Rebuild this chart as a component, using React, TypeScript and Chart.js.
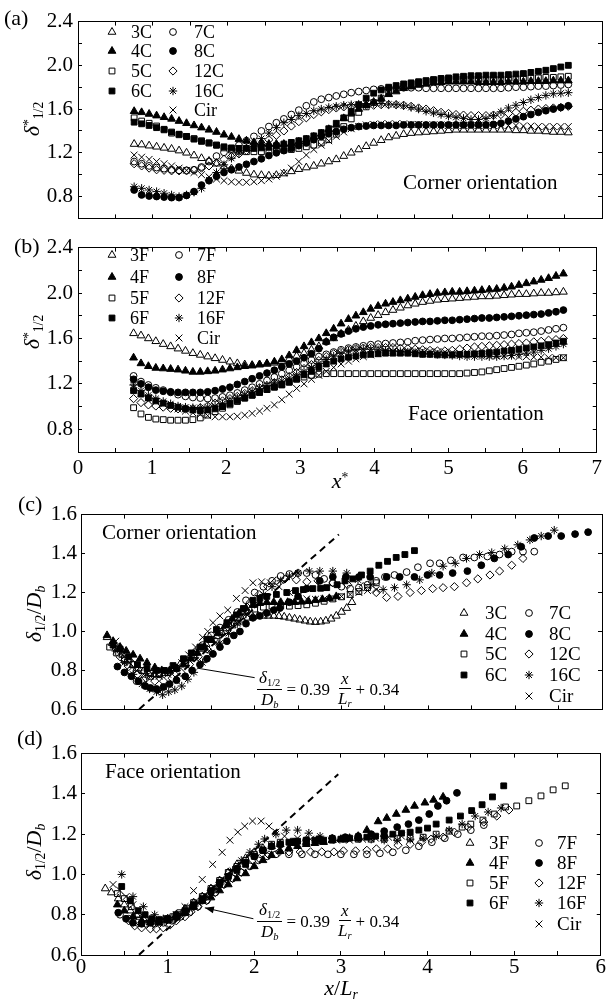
import React, { useEffect, useRef } from 'react';
import { Chart, registerables } from 'chart.js';
Chart.register(...registerables);

const FONT = "'Liberation Serif', 'Times New Roman', serif";

// ---------------- data: panels (a) and (b), x* positions ----------------
const xStar = [
  0.75, 0.85, 0.95, 1.05, 1.15, 1.25, 1.35, 1.45, 1.55, 1.65,
  1.75, 1.85, 1.95, 2.05, 2.15, 2.25, 2.35, 2.45, 2.55, 2.65,
  2.75, 2.85, 2.95, 3.05, 3.15, 3.25, 3.35, 3.45, 3.55, 3.65,
  3.75, 3.85, 3.95, 4.05, 4.15, 4.25, 4.35, 4.45, 4.55, 4.65,
  4.75, 4.85, 4.95, 5.05, 5.15, 5.25, 5.35, 5.45, 5.55, 5.65,
  5.75, 5.85, 5.95, 6.05, 6.15, 6.25, 6.35, 6.45, 6.55,
];

// (a) corner orientation
const a3C = [
  1.28, 1.275, 1.265, 1.255, 1.245, 1.235, 1.22, 1.2, 1.175, 1.15,
  1.125, 1.1, 1.075, 1.055, 1.035, 1.015, 1.0, 0.995, 0.99, 0.995,
  1.01, 1.03, 1.05, 1.065, 1.08, 1.1, 1.12, 1.14, 1.17, 1.2,
  1.23, 1.26, 1.29, 1.315, 1.34, 1.355, 1.37, 1.38, 1.385, 1.39,
  1.395, 1.4, 1.405, 1.41, 1.41, 1.41, 1.41, 1.41, 1.41, 1.41,
  1.41, 1.405, 1.405, 1.4, 1.4, 1.395, 1.39, 1.39, 1.385,
];
const a4C = [
  1.58, 1.57, 1.555, 1.54, 1.525, 1.51, 1.49, 1.47, 1.45, 1.43,
  1.41, 1.39, 1.365, 1.345, 1.325, 1.31, 1.295, 1.285, 1.28, 1.28,
  1.28, 1.285, 1.3, 1.32, 1.345, 1.375, 1.415, 1.455, 1.515, 1.56,
  1.6, 1.635, 1.665, 1.695, 1.735, 1.76, 1.79, 1.805, 1.82, 1.83,
  1.84, 1.845, 1.85, 1.85, 1.85, 1.85, 1.845, 1.845, 1.845, 1.845,
  1.85, 1.85, 1.85, 1.855, 1.855, 1.855, 1.86, 1.86, 1.86,
];
const a5C = [
  1.52, 1.49, 1.47, 1.445, 1.41, 1.38, 1.365, 1.35, 1.33, 1.31,
  1.29, 1.27, 1.245, 1.225, 1.215, 1.21, 1.21, 1.21, 1.215, 1.22,
  1.225, 1.23, 1.24, 1.255, 1.27, 1.29, 1.32, 1.37, 1.44, 1.51,
  1.57, 1.62, 1.66, 1.7, 1.745, 1.78, 1.81, 1.83, 1.845, 1.855,
  1.865, 1.87, 1.875, 1.875, 1.875, 1.875, 1.875, 1.875, 1.875, 1.875,
  1.88, 1.88, 1.88, 1.885, 1.885, 1.89, 1.89, 1.895, 1.9,
];
const a6C = [
  1.48, 1.465, 1.45, 1.43, 1.415, 1.39, 1.37, 1.35, 1.325, 1.305,
  1.29, 1.27, 1.255, 1.245, 1.24, 1.24, 1.24, 1.245, 1.25, 1.265,
  1.28, 1.295, 1.31, 1.33, 1.355, 1.385, 1.42, 1.47, 1.52, 1.58,
  1.64, 1.7, 1.745, 1.775, 1.8, 1.815, 1.83, 1.84, 1.85, 1.86,
  1.87, 1.88, 1.885, 1.895, 1.9, 1.905, 1.905, 1.91, 1.91, 1.91,
  1.915, 1.92, 1.925, 1.935, 1.945, 1.955, 1.97, 1.985, 2.0,
];
const a7C = [
  1.12, 1.1, 1.08, 1.065, 1.055, 1.045, 1.04, 1.04, 1.045, 1.07,
  1.12, 1.17, 1.205, 1.235, 1.27, 1.31, 1.35, 1.4, 1.44, 1.475,
  1.51, 1.55, 1.59, 1.63, 1.665, 1.69, 1.705, 1.72, 1.735, 1.75,
  1.76, 1.77, 1.78, 1.785, 1.79, 1.795, 1.795, 1.795, 1.795, 1.79,
  1.79, 1.79, 1.79, 1.79, 1.79, 1.79, 1.79, 1.79, 1.79, 1.79,
  1.795, 1.8, 1.8, 1.805, 1.81, 1.81, 1.815, 1.82, 1.825,
];
const a8C = [
  0.86, 0.815, 0.805, 0.8, 0.795, 0.79, 0.79, 0.81, 0.845, 0.905,
  0.945, 0.985, 1.02, 1.045, 1.07, 1.095, 1.12, 1.145, 1.175, 1.2,
  1.22, 1.24, 1.265, 1.29, 1.32, 1.35, 1.375, 1.395, 1.415, 1.43,
  1.44, 1.445, 1.45, 1.45, 1.45, 1.45, 1.455, 1.455, 1.455, 1.455,
  1.455, 1.455, 1.455, 1.455, 1.455, 1.455, 1.455, 1.455, 1.46, 1.47,
  1.49, 1.51, 1.53, 1.55, 1.57, 1.585, 1.6, 1.615, 1.63,
];
const a12C = [
  1.1, 1.08, 1.06, 1.045, 1.04, 1.035, 1.035, 1.035, 1.04, 1.06,
  1.08, 1.11, 1.14, 1.165, 1.19, 1.22, 1.25, 1.285, 1.32, 1.36,
  1.4, 1.445, 1.485, 1.52, 1.55, 1.575, 1.595, 1.61, 1.62, 1.625,
  1.63, 1.635, 1.635, 1.64, 1.64, 1.64, 1.635, 1.625, 1.61, 1.6,
  1.585, 1.57, 1.56, 1.55, 1.545, 1.54, 1.54, 1.54, 1.545, 1.55,
  1.56, 1.57, 1.58, 1.59, 1.6, 1.605, 1.61, 1.615, 1.625,
];
const a16C = [
  0.89, 0.875, 0.86, 0.845, 0.83, 0.815, 0.8, 0.815, 0.84, 0.875,
  0.95, 1.02, 1.09, 1.15, 1.2, 1.245, 1.285, 1.33, 1.38, 1.43,
  1.475, 1.505, 1.54, 1.56, 1.585, 1.6, 1.615, 1.625, 1.635, 1.64,
  1.645, 1.65, 1.65, 1.65, 1.645, 1.64, 1.63, 1.615, 1.6, 1.58,
  1.565, 1.55, 1.535, 1.525, 1.515, 1.505, 1.505, 1.515, 1.54, 1.575,
  1.61, 1.635, 1.66, 1.685, 1.705, 1.725, 1.74, 1.745, 1.75,
];
const aCir = [
  1.18, 1.16, 1.14, 1.12, 1.1, 1.08, 1.06, 1.04, 1.02, 1.0,
  0.98, 0.96, 0.945, 0.935, 0.93, 0.93, 0.935, 0.945, 0.96, 0.985,
  1.015, 1.06, 1.12, 1.18, 1.23, 1.27, 1.31, 1.35, 1.39, 1.42,
  1.44, 1.455, 1.46, 1.465, 1.465, 1.465, 1.465, 1.46, 1.46, 1.455,
  1.455, 1.455, 1.45, 1.45, 1.45, 1.45, 1.45, 1.45, 1.45, 1.45,
  1.45, 1.45, 1.445, 1.445, 1.44, 1.44, 1.44, 1.44, 1.44,
];

// (b) face orientation
const b3F = [
  1.645, 1.625, 1.6, 1.575, 1.55, 1.53, 1.51, 1.49, 1.47, 1.455,
  1.44, 1.425, 1.41, 1.395, 1.38, 1.37, 1.365, 1.37, 1.375, 1.385,
  1.4, 1.42, 1.445, 1.47, 1.5, 1.53, 1.57, 1.6, 1.64, 1.675,
  1.71, 1.75, 1.78, 1.805, 1.83, 1.85, 1.87, 1.89, 1.905, 1.92,
  1.93, 1.94, 1.945, 1.95, 1.955, 1.96, 1.965, 1.97, 1.97, 1.975,
  1.98, 1.985, 1.99, 1.99, 1.995, 2.0, 2.0, 2.005, 2.01,
];
const b4F = [
  1.43, 1.38, 1.355, 1.34, 1.335, 1.33, 1.325, 1.315, 1.305, 1.305,
  1.31, 1.315, 1.325, 1.335, 1.345, 1.355, 1.36, 1.37, 1.38, 1.395,
  1.415, 1.45, 1.495, 1.53, 1.565, 1.6, 1.645, 1.685, 1.73, 1.77,
  1.8, 1.83, 1.86, 1.885, 1.905, 1.92, 1.935, 1.95, 1.965, 1.98,
  1.99, 2.0, 2.005, 2.01, 2.01, 2.015, 2.02, 2.025, 2.03, 2.035,
  2.045, 2.055, 2.07, 2.085, 2.1, 2.115, 2.13, 2.15, 2.17,
];
const b5F = [
  0.99, 0.935, 0.905, 0.89, 0.885, 0.88, 0.88, 0.88, 0.885, 0.9,
  0.925, 0.955, 0.985, 1.015, 1.045, 1.075, 1.1, 1.125, 1.15, 1.175,
  1.195, 1.215, 1.24, 1.26, 1.275, 1.285, 1.29, 1.29, 1.29, 1.29,
  1.29, 1.29, 1.29, 1.29, 1.29, 1.29, 1.29, 1.29, 1.29, 1.29,
  1.29, 1.29, 1.29, 1.29, 1.29, 1.295, 1.3, 1.305, 1.315, 1.325,
  1.335, 1.345, 1.355, 1.365, 1.375, 1.39, 1.4, 1.415, 1.43,
];
const b6F = [
  1.14, 1.11, 1.075, 1.05, 1.03, 1.01, 0.995, 0.98, 0.97, 0.965,
  0.97, 0.98, 1.0, 1.025, 1.05, 1.075, 1.1, 1.125, 1.15, 1.17,
  1.19, 1.215, 1.245, 1.28, 1.31, 1.345, 1.375, 1.4, 1.42, 1.435,
  1.445, 1.455, 1.46, 1.465, 1.47, 1.47, 1.47, 1.47, 1.465, 1.46,
  1.46, 1.455, 1.455, 1.455, 1.46, 1.46, 1.465, 1.47, 1.475, 1.48,
  1.49, 1.495, 1.505, 1.515, 1.525, 1.535, 1.545, 1.56, 1.575,
];
const b7F = [
  1.27, 1.22, 1.19, 1.165, 1.145, 1.125, 1.105, 1.09, 1.08, 1.075,
  1.07, 1.075, 1.085, 1.1, 1.12, 1.145, 1.17, 1.2, 1.23, 1.26,
  1.29, 1.32, 1.35, 1.38, 1.41, 1.44, 1.46, 1.48, 1.5, 1.515,
  1.525, 1.535, 1.545, 1.55, 1.555, 1.56, 1.565, 1.57, 1.58, 1.585,
  1.59, 1.595, 1.6, 1.6, 1.605, 1.61, 1.615, 1.62, 1.62, 1.625,
  1.63, 1.635, 1.645, 1.65, 1.655, 1.665, 1.675, 1.685, 1.695,
];
const b8F = [
  1.24, 1.2, 1.17, 1.145, 1.135, 1.13, 1.125, 1.125, 1.125, 1.125,
  1.13, 1.14, 1.155, 1.17, 1.195, 1.22, 1.245, 1.27, 1.295, 1.32,
  1.35, 1.375, 1.4, 1.43, 1.465, 1.51, 1.57, 1.61, 1.64, 1.665,
  1.685, 1.7, 1.71, 1.72, 1.725, 1.73, 1.735, 1.74, 1.745, 1.75,
  1.75, 1.755, 1.76, 1.76, 1.765, 1.77, 1.775, 1.78, 1.78, 1.785,
  1.79, 1.795, 1.8, 1.805, 1.81, 1.815, 1.825, 1.835, 1.85,
];
const b12F = [
  1.07, 1.035, 1.015, 1.005, 0.995, 0.985, 0.98, 0.98, 0.98, 0.99,
  1.005, 1.03, 1.05, 1.07, 1.09, 1.115, 1.14, 1.165, 1.185, 1.21,
  1.235, 1.265, 1.3, 1.335, 1.37, 1.405, 1.44, 1.465, 1.485, 1.5,
  1.51, 1.515, 1.52, 1.52, 1.52, 1.52, 1.515, 1.51, 1.505, 1.5,
  1.495, 1.49, 1.49, 1.495, 1.505, 1.515, 1.525, 1.53, 1.535, 1.54,
  1.545, 1.55, 1.555, 1.56, 1.57, 1.575, 1.585, 1.59, 1.6,
];
const b16F = [
  1.19, 1.14, 1.1, 1.07, 1.045, 1.025, 1.005, 0.995, 0.99, 0.99,
  0.995, 1.005, 1.025, 1.05, 1.075, 1.1, 1.13, 1.16, 1.185, 1.21,
  1.225, 1.25, 1.28, 1.31, 1.345, 1.38, 1.415, 1.445, 1.47, 1.49,
  1.5, 1.505, 1.505, 1.5, 1.495, 1.49, 1.485, 1.48, 1.475, 1.47,
  1.465, 1.46, 1.455, 1.45, 1.445, 1.44, 1.44, 1.44, 1.44, 1.44,
  1.445, 1.45, 1.46, 1.47, 1.48, 1.495, 1.51, 1.53, 1.55,
];
const bCir = [
  1.17, 1.12, 1.08, 1.05, 1.02, 1.0, 0.98, 0.96, 0.945, 0.93,
  0.92, 0.91, 0.91, 0.91, 0.915, 0.925, 0.94, 0.96, 0.985, 1.015,
  1.06, 1.11, 1.16, 1.2, 1.24, 1.275, 1.31, 1.345, 1.375, 1.4,
  1.42, 1.44, 1.455, 1.465, 1.475, 1.48, 1.485, 1.49, 1.49, 1.49,
  1.485, 1.48, 1.48, 1.475, 1.47, 1.465, 1.46, 1.455, 1.45, 1.45,
  1.445, 1.445, 1.44, 1.44, 1.435, 1.435, 1.43, 1.43, 1.43,
];

// ---------------- data: panel (c), corner orientation vs x/Lr ----------------
const c3Cx = [0.30, 0.36, 0.42, 0.48, 0.54, 0.60, 0.66, 0.72, 0.78, 0.84, 0.90, 0.96, 1.02, 1.08, 1.14, 1.20, 1.26, 1.32, 1.38, 1.44, 1.50, 1.56, 1.62, 1.68, 1.74, 1.80, 1.86, 1.92, 1.98, 2.04, 2.10, 2.16, 2.22, 2.28, 2.34, 2.40, 2.46, 2.52, 2.58, 2.64, 2.70, 2.76, 2.82, 2.88, 2.94, 3.00, 3.06, 3.12];
const c3Cy = [0.97, 0.94, 0.91, 0.88, 0.855, 0.83, 0.81, 0.795, 0.785, 0.78, 0.78, 0.785, 0.795, 0.81, 0.83, 0.85, 0.87, 0.89, 0.91, 0.935, 0.955, 0.975, 0.995, 1.015, 1.03, 1.045, 1.06, 1.07, 1.075, 1.08, 1.08, 1.08, 1.08, 1.078, 1.075, 1.07, 1.065, 1.06, 1.055, 1.05, 1.048, 1.05, 1.055, 1.065, 1.08, 1.1, 1.12, 1.15];
const c4Cx = [0.30, 0.37, 0.45, 0.52, 0.60, 0.68, 0.76, 0.85, 0.93, 1.02, 1.10, 1.18, 1.26, 1.34, 1.42, 1.50, 1.58, 1.66, 1.74, 1.82, 1.90, 1.98, 2.06, 2.14, 2.22, 2.30, 2.38, 2.46, 2.54, 2.62, 2.70, 2.78, 2.86, 2.94];
const c4Cy = [0.98, 0.95, 0.92, 0.9, 0.88, 0.86, 0.84, 0.815, 0.8, 0.8, 0.81, 0.83, 0.86, 0.89, 0.92, 0.955, 0.99, 1.03, 1.065, 1.095, 1.12, 1.135, 1.145, 1.15, 1.15, 1.15, 1.15, 1.15, 1.152, 1.155, 1.16, 1.165, 1.17, 1.18];
const c5Cx = [0.33, 0.41, 0.50, 0.60, 0.70, 0.80, 0.90, 1.00, 1.10, 1.20, 1.30, 1.40, 1.50, 1.60, 1.70, 1.80, 1.90, 2.00, 2.10, 2.20, 2.30, 2.40, 2.50, 2.60, 2.70, 2.80, 2.90, 3.00, 3.10, 3.20, 3.30, 3.40];
const c5Cy = [0.92, 0.89, 0.86, 0.83, 0.8, 0.785, 0.78, 0.79, 0.81, 0.84, 0.88, 0.92, 0.96, 1.0, 1.04, 1.07, 1.1, 1.115, 1.125, 1.13, 1.13, 1.13, 1.133, 1.137, 1.145, 1.155, 1.167, 1.178, 1.19, 1.205, 1.225, 1.25];
const c6Cx = [0.37, 0.45, 0.55, 0.65, 0.76, 0.87, 0.96, 1.06, 1.18, 1.27, 1.37, 1.45, 1.56, 1.68, 1.79, 1.87, 1.98, 2.06, 2.14, 2.25, 2.37, 2.47, 2.56, 2.67, 2.76, 2.83, 2.95, 3.04, 3.13, 3.23, 3.33, 3.43, 3.53, 3.63, 3.73, 3.84];
const c6Cy = [0.93, 0.91, 0.87, 0.83, 0.81, 0.8, 0.8, 0.825, 0.86, 0.89, 0.92, 0.96, 1.01, 1.045, 1.085, 1.118, 1.16, 1.17, 1.18, 1.19, 1.2, 1.21, 1.215, 1.22, 1.222, 1.225, 1.24, 1.26, 1.27, 1.29, 1.31, 1.34, 1.36, 1.38, 1.395, 1.415];
const c7Cx = [0.50, 0.57, 0.64, 0.72, 0.80, 0.90, 1.00, 1.10, 1.20, 1.30, 1.40, 1.50, 1.60, 1.70, 1.80, 1.90, 2.00, 2.10, 2.20, 2.30, 2.40, 2.50, 2.60, 2.70, 2.80, 2.90, 3.00, 3.10, 3.20, 3.30, 3.40, 3.50, 3.61, 3.75, 3.88, 4.02, 4.13, 4.26, 4.40, 4.53, 4.68, 4.82, 4.96, 5.09, 5.22];
const c7Cy = [0.85, 0.8, 0.745, 0.75, 0.77, 0.78, 0.79, 0.81, 0.84, 0.88, 0.93, 0.98, 1.02, 1.06, 1.1, 1.16, 1.2, 1.23, 1.26, 1.285, 1.295, 1.3, 1.3, 1.29, 1.27, 1.25, 1.23, 1.22, 1.225, 1.24, 1.26, 1.28, 1.29, 1.305, 1.33, 1.35, 1.35, 1.365, 1.38, 1.38, 1.385, 1.395, 1.41, 1.41, 1.41];
const c8Cx = [0.42, 0.50, 0.58, 0.66, 0.74, 0.80, 0.87, 0.95, 1.02, 1.10, 1.20, 1.28, 1.37, 1.45, 1.52, 1.60, 1.68, 1.76, 1.83, 1.90, 1.98, 2.06, 2.14, 2.22, 2.29, 2.40, 2.50, 2.60, 2.75, 2.90, 3.05, 3.20, 3.33, 3.52, 3.67, 3.84, 3.99, 4.13, 4.28, 4.45, 4.61, 4.76, 4.92, 5.07, 5.22, 5.38, 5.53, 5.69, 5.84];
const c8Cy = [0.82, 0.79, 0.77, 0.745, 0.72, 0.71, 0.705, 0.715, 0.73, 0.75, 0.77, 0.8, 0.83, 0.86, 0.885, 0.92, 0.95, 0.98, 1.0, 1.04, 1.07, 1.08, 1.095, 1.11, 1.12, 1.15, 1.18, 1.22, 1.26, 1.28, 1.28, 1.28, 1.28, 1.28, 1.28, 1.28, 1.29, 1.29, 1.3, 1.31, 1.34, 1.375, 1.395, 1.435, 1.48, 1.49, 1.49, 1.5, 1.51];
const c12Cx = [0.45, 0.55, 0.65, 0.75, 0.85, 0.95, 1.05, 1.15, 1.25, 1.35, 1.45, 1.55, 1.65, 1.75, 1.85, 1.95, 2.05, 2.15, 2.25, 2.35, 2.48, 2.60, 2.73, 2.90, 3.07, 3.25, 3.40, 3.52, 3.65, 3.79, 3.92, 4.05, 4.17, 4.30, 4.44, 4.57, 4.71, 4.82, 4.96, 5.09];
const c12Cy = [0.87, 0.82, 0.78, 0.76, 0.745, 0.745, 0.76, 0.79, 0.83, 0.87, 0.91, 0.95, 1.0, 1.05, 1.1, 1.15, 1.19, 1.23, 1.26, 1.27, 1.265, 1.255, 1.26, 1.25, 1.24, 1.23, 1.2, 1.175, 1.18, 1.2, 1.21, 1.22, 1.225, 1.23, 1.25, 1.27, 1.29, 1.31, 1.34, 1.375];
const c16Cx = [0.40, 0.50, 0.60, 0.70, 0.79, 0.87, 0.94, 1.01, 1.08, 1.16, 1.23, 1.30, 1.40, 1.50, 1.60, 1.70, 1.80, 1.90, 2.00, 2.10, 2.20, 2.30, 2.40, 2.50, 2.63, 2.75, 2.90, 3.06, 3.19, 3.34, 3.48, 3.61, 3.75, 3.90, 4.04, 4.17, 4.31, 4.44, 4.59, 4.73, 4.88, 5.03, 5.17, 5.30, 5.45];
const c16Cy = [0.9, 0.84, 0.78, 0.73, 0.705, 0.69, 0.675, 0.69, 0.7, 0.72, 0.755, 0.79, 0.84, 0.89, 0.94, 0.99, 1.04, 1.09, 1.14, 1.19, 1.23, 1.26, 1.285, 1.3, 1.31, 1.31, 1.31, 1.3, 1.265, 1.24, 1.215, 1.225, 1.24, 1.265, 1.3, 1.335, 1.35, 1.375, 1.395, 1.405, 1.425, 1.445, 1.47, 1.49, 1.52];
const cCirx = [0.40, 0.48, 0.56, 0.64, 0.72, 0.80, 0.90, 1.00, 1.08, 1.16, 1.24, 1.32, 1.40, 1.46, 1.52, 1.60, 1.69, 1.79, 1.89, 1.98, 2.08, 2.18, 2.28, 2.40, 2.50, 2.60, 2.70, 2.80, 2.90, 3.00, 3.10, 3.20, 3.30, 3.40];
const cCiry = [0.95, 0.88, 0.84, 0.8, 0.78, 0.77, 0.77, 0.78, 0.81, 0.84, 0.88, 0.92, 0.97, 1.0, 1.045, 1.08, 1.11, 1.17, 1.21, 1.25, 1.255, 1.25, 1.23, 1.2, 1.18, 1.167, 1.165, 1.167, 1.17, 1.18, 1.19, 1.2, 1.21, 1.215];

// ---------------- data: panel (d), face orientation vs x/Lr ----------------
const d3Fx = [0.28, 0.35, 0.43, 0.50, 0.57, 0.64, 0.72, 0.80, 0.90, 1.00, 1.10, 1.20, 1.30, 1.40, 1.50, 1.60, 1.70, 1.80, 1.90, 2.00, 2.10, 2.20, 2.30, 2.45, 2.60, 2.75, 2.90, 3.05, 3.20, 3.35, 3.50];
const d3Fy = [0.93, 0.91, 0.88, 0.85, 0.82, 0.8, 0.78, 0.77, 0.77, 0.78, 0.8, 0.83, 0.86, 0.89, 0.93, 0.97, 1.01, 1.05, 1.08, 1.11, 1.13, 1.14, 1.15, 1.155, 1.16, 1.165, 1.17, 1.175, 1.18, 1.19, 1.2];
const d4Fx = [0.42, 0.50, 0.60, 0.70, 0.80, 0.90, 1.00, 1.10, 1.20, 1.30, 1.40, 1.50, 1.60, 1.70, 1.80, 1.90, 2.00, 2.10, 2.20, 2.30, 2.40, 2.50, 2.60, 2.70, 2.80, 2.90, 3.00, 3.10, 3.20, 3.30, 3.43, 3.53, 3.64, 3.75, 3.85, 3.97, 4.07, 4.18];
const d4Fy = [0.85, 0.82, 0.79, 0.77, 0.76, 0.76, 0.77, 0.785, 0.81, 0.84, 0.87, 0.885, 0.92, 0.95, 0.98, 1.005, 1.04, 1.07, 1.095, 1.115, 1.13, 1.14, 1.15, 1.155, 1.16, 1.17, 1.175, 1.18, 1.19, 1.22, 1.263, 1.28, 1.3, 1.32, 1.34, 1.356, 1.37, 1.385];
const d5Fx = [0.42, 0.50, 0.58, 0.66, 0.74, 0.82, 0.90, 0.98, 1.06, 1.14, 1.22, 1.30, 1.40, 1.50, 1.60, 1.70, 1.80, 1.90, 2.00, 2.10, 2.20, 2.30, 2.45, 2.60, 2.75, 2.90, 3.05, 3.20, 3.35, 3.50, 3.65, 3.80, 3.95, 4.10, 4.25, 4.40, 4.50, 4.64, 4.77, 4.90, 5.03, 5.17, 5.31, 5.45, 5.59];
const d5Fy = [0.905, 0.88, 0.84, 0.8, 0.78, 0.77, 0.77, 0.78, 0.79, 0.81, 0.83, 0.86, 0.89, 0.93, 0.97, 1.01, 1.04, 1.07, 1.1, 1.12, 1.15, 1.16, 1.165, 1.17, 1.175, 1.175, 1.175, 1.175, 1.175, 1.175, 1.18, 1.18, 1.185, 1.2, 1.215, 1.235, 1.25, 1.27, 1.3, 1.335, 1.34, 1.366, 1.39, 1.42, 1.44];
const d6Fx = [0.47, 0.57, 0.66, 0.74, 0.82, 0.90, 1.00, 1.10, 1.20, 1.30, 1.40, 1.50, 1.60, 1.70, 1.80, 1.90, 2.00, 2.10, 2.20, 2.30, 2.40, 2.50, 2.60, 2.70, 2.80, 2.90, 3.00, 3.10, 3.20, 3.30, 3.40, 3.50, 3.60, 3.70, 3.80, 3.90, 4.00, 4.10, 4.25, 4.38, 4.51, 4.63, 4.75, 4.88];
const d6Fy = [0.94, 0.87, 0.82, 0.8, 0.78, 0.775, 0.78, 0.8, 0.82, 0.85, 0.88, 0.92, 0.96, 0.99, 1.02, 1.05, 1.09, 1.12, 1.14, 1.15, 1.16, 1.165, 1.165, 1.17, 1.17, 1.17, 1.175, 1.18, 1.18, 1.185, 1.19, 1.19, 1.2, 1.205, 1.21, 1.22, 1.23, 1.25, 1.27, 1.29, 1.317, 1.346, 1.385, 1.44];
const d7Fx = [0.45, 0.55, 0.65, 0.75, 0.85, 0.95, 1.05, 1.15, 1.25, 1.35, 1.45, 1.55, 1.65, 1.75, 1.85, 1.95, 2.05, 2.15, 2.25, 2.40, 2.55, 2.70, 2.85, 3.00, 3.15, 3.30, 3.45, 3.60, 3.75, 3.90, 4.05, 4.20, 4.35, 4.50, 4.65];
const d7Fy = [0.8, 0.78, 0.76, 0.755, 0.755, 0.76, 0.77, 0.79, 0.81, 0.84, 0.87, 0.91, 0.95, 0.98, 1.01, 1.04, 1.07, 1.09, 1.1, 1.1, 1.1, 1.1, 1.1, 1.1, 1.1, 1.1, 1.105, 1.11, 1.12, 1.14, 1.16, 1.18, 1.2, 1.22, 1.245];
const d8Fx = [0.43, 0.52, 0.60, 0.70, 0.80, 0.90, 1.00, 1.10, 1.20, 1.30, 1.40, 1.50, 1.60, 1.70, 1.80, 1.90, 2.00, 2.10, 2.20, 2.30, 2.45, 2.60, 2.75, 2.90, 3.05, 3.20, 3.35, 3.50, 3.65, 3.78, 3.90, 4.02, 4.12, 4.22, 4.34];
const d8Fy = [0.81, 0.78, 0.76, 0.755, 0.76, 0.765, 0.775, 0.79, 0.81, 0.84, 0.87, 0.91, 0.95, 0.99, 1.03, 1.06, 1.09, 1.12, 1.14, 1.15, 1.16, 1.17, 1.175, 1.18, 1.185, 1.19, 1.2, 1.215, 1.235, 1.25, 1.27, 1.3, 1.34, 1.366, 1.405];
const d12Fx = [0.55, 0.62, 0.70, 0.80, 0.87, 0.95, 1.03, 1.10, 1.20, 1.27, 1.35, 1.45, 1.55, 1.65, 1.75, 1.85, 1.95, 2.06, 2.17, 2.29, 2.40, 2.53, 2.65, 2.78, 2.92, 3.03, 3.17, 3.30, 3.41, 3.54, 3.66, 3.80, 3.93, 4.04, 4.18, 4.31, 4.47, 4.65, 4.80, 4.94];
const d12Fy = [0.77, 0.745, 0.735, 0.73, 0.73, 0.735, 0.75, 0.77, 0.79, 0.815, 0.84, 0.87, 0.91, 0.95, 0.98, 1.01, 1.045, 1.078, 1.097, 1.112, 1.112, 1.112, 1.112, 1.112, 1.112, 1.117, 1.117, 1.12, 1.127, 1.127, 1.145, 1.15, 1.16, 1.175, 1.185, 1.21, 1.235, 1.26, 1.29, 1.32];
const d16Fx = [0.47, 0.60, 0.72, 0.85, 0.95, 1.05, 1.15, 1.25, 1.35, 1.45, 1.55, 1.65, 1.75, 1.85, 1.95, 2.05, 2.12, 2.25, 2.37, 2.50, 2.63, 2.76, 2.90, 3.05, 3.20, 3.35, 3.50, 3.65, 3.80, 3.95, 4.10, 4.25, 4.40, 4.55, 4.70, 4.85];
const d16Fy = [1.0, 0.89, 0.84, 0.8, 0.78, 0.785, 0.8, 0.83, 0.86, 0.89, 0.93, 0.97, 1.02, 1.07, 1.11, 1.15, 1.176, 1.2, 1.22, 1.22, 1.205, 1.19, 1.18, 1.18, 1.18, 1.175, 1.17, 1.17, 1.175, 1.18, 1.19, 1.22, 1.25, 1.29, 1.31, 1.33];
const dCirx = [0.37, 0.45, 0.52, 0.60, 0.70, 0.80, 0.90, 1.00, 1.10, 1.20, 1.30, 1.40, 1.52, 1.63, 1.72, 1.81, 1.89, 1.98, 2.08, 2.17, 2.25, 2.35, 2.50, 2.65, 2.80, 2.95, 3.10, 3.25, 3.40, 3.55, 3.70];
const dCiry = [0.95, 0.92, 0.89, 0.85, 0.8, 0.775, 0.77, 0.775, 0.8, 0.84, 0.92, 0.975, 1.05, 1.11, 1.17, 1.21, 1.24, 1.265, 1.265, 1.24, 1.21, 1.19, 1.18, 1.175, 1.17, 1.17, 1.17, 1.175, 1.18, 1.185, 1.19];

// fitted line delta/Db = 0.39 x/Lr + 0.34 (end points)
const fitX = [0.67, 2.97];
const fitY = [0.601, 1.498];
// pointer from equation to data (c) and (d)
const pointerCX = [1.335, 2.0];
const pointerCY = [0.812, 0.763];
const pointerDX = [1.43, 1.99];
const pointerDY = [0.834, 0.78];

// series names and markers
const cornerLabels = ['3C', '4C', '5C', '6C', '7C', '8C', '12C', '16C', 'Cir'];
const faceLabels = ['3F', '4F', '5F', '6F', '7F', '8F', '12F', '16F', 'Cir'];
const markerStyles = ['triangle', 'triangle', 'rect', 'rect', 'circle', 'circle', 'rectRot', 'star', 'crossRot'];
const markerFilled = [false, true, false, true, false, true, false, false, false];
const markerRadius: Record<string, number> = { triangle: 4.5, rect: 4.1, circle: 3.4, rectRot: 4.1, star: 4.2, crossRot: 4.8 };

type Series = { x: number[]; y: number[] };

function drawMarker(ctx: CanvasRenderingContext2D, style: string, x: number, y: number, r: number, filled: boolean) {
  ctx.save();
  ctx.beginPath();
  ctx.lineWidth = 1;
  ctx.strokeStyle = '#000';
  ctx.fillStyle = '#000';
  if (style === 'circle') {
    ctx.arc(x, y, r, 0, Math.PI * 2);
  } else if (style === 'triangle') {
    let a = 0;
    ctx.moveTo(x + Math.sin(a) * r, y - Math.cos(a) * r);
    a += (2 * Math.PI) / 3;
    ctx.lineTo(x + Math.sin(a) * r, y - Math.cos(a) * r);
    a += (2 * Math.PI) / 3;
    ctx.lineTo(x + Math.sin(a) * r, y - Math.cos(a) * r);
    ctx.closePath();
  } else if (style === 'rect') {
    const s = r * Math.SQRT1_2;
    ctx.rect(x - s, y - s, 2 * s, 2 * s);
  } else if (style === 'rectRot') {
    ctx.moveTo(x - r, y);
    ctx.lineTo(x, y - r);
    ctx.lineTo(x + r, y);
    ctx.lineTo(x, y + r);
    ctx.closePath();
  } else {
    const d = r * Math.SQRT1_2;
    if (style === 'star') {
      ctx.moveTo(x - r, y);
      ctx.lineTo(x + r, y);
      ctx.moveTo(x, y - r);
      ctx.lineTo(x, y + r);
    }
    ctx.moveTo(x - d, y - d);
    ctx.lineTo(x + d, y + d);
    ctx.moveTo(x + d, y - d);
    ctx.lineTo(x - d, y + d);
  }
  if (filled) ctx.fill();
  ctx.stroke();
  ctx.restore();
}

type PanelCfg = {
  id: string;
  top: number;
  height: number;
  plotLeft: number;
  plotTop: number;
  plotBottom: number;
  plotRight: number;
  xMax: number;
  yMin: number;
  yMax: number;
  yStep: number;
  yLabel: (v: number) => string;
  showX: boolean;
  xPad: number;
  yPad: number;
  series: Series[];
  labels: string[];
  legend: { symX: number[]; textX: number[]; rowY: number[]; size: number };
  dashed: boolean;
  pointer?: { x: number[]; y: number[]; arrow: boolean };
};

const labelAB = (v: number) => {
  const k = Math.round(v * 10);
  return k === 8 || k === 12 || k === 16 || k === 20 || k === 24 ? (k / 10).toFixed(1) : '';
};
const labelCD = (v: number) => (Math.round(v * 10) / 10).toFixed(1);

function makeConfig(p: PanelCfg): any {
  const grid = { drawOnChartArea: false, drawTicks: true, tickLength: -4, color: '#000', lineWidth: 1 };
  const border = { display: true, color: '#000', width: 1 };
  const tickFont = { family: FONT, size: 21 };
  const xH = p.top + p.height - p.plotBottom;

  const datasets: any[] = p.series.map((s, i) => {
    const n = Math.min(s.x.length, s.y.length);
    const st = markerStyles[i];
    return {
      label: p.labels[i],
      data: s.x.slice(0, n).map((xv, k) => ({ x: xv, y: s.y[k] })),
      pointStyle: st,
      pointRadius: markerRadius[st],
      pointBorderWidth: 1,
      pointBorderColor: '#000',
      pointBackgroundColor: markerFilled[i] ? '#000' : 'rgba(0,0,0,0)',
      borderColor: '#000',
      showLine: false,
    };
  });
  if (p.dashed) {
    datasets.push({
      label: 'fit',
      data: fitX.map((xv, k) => ({ x: xv, y: fitY[k] })),
      showLine: true,
      borderColor: '#000',
      borderWidth: 2,
      borderDash: [7, 5],
      pointRadius: 0,
      fill: false,
    });
  }

  const xTickCb = (v: any) => (Math.abs(v - Math.round(v)) < 1e-6 ? String(Math.round(v)) : '');

  const overlay = {
    id: 'overlay_' + p.id,
    afterDatasetsDraw(chart: any) {
      const ctx: CanvasRenderingContext2D = chart.ctx;
      p.labels.forEach((lab, i) => {
        const col = i < 4 ? 0 : 1;
        const row = i < 4 ? i : i - 4;
        const py = p.legend.rowY[row] - p.top;
        drawMarker(ctx, markerStyles[i], p.legend.symX[col], py, markerRadius[markerStyles[i]], markerFilled[i]);
        ctx.save();
        ctx.fillStyle = '#000';
        ctx.font = `${p.legend.size}px ${FONT}`;
        ctx.textBaseline = 'middle';
        ctx.textAlign = 'left';
        ctx.fillText(lab, p.legend.textX[col], py + 1);
        ctx.restore();
      });
      if (p.pointer) {
        const xs = chart.scales.x;
        const ys = chart.scales.y;
        const x1 = xs.getPixelForValue(p.pointer.x[0]);
        const y1 = ys.getPixelForValue(p.pointer.y[0]);
        const x2 = xs.getPixelForValue(p.pointer.x[1]);
        const y2 = ys.getPixelForValue(p.pointer.y[1]);
        ctx.save();
        ctx.strokeStyle = '#000';
        ctx.fillStyle = '#000';
        ctx.lineWidth = 1;
        ctx.beginPath();
        ctx.moveTo(x1, y1);
        ctx.lineTo(x2, y2);
        ctx.stroke();
        if (p.pointer.arrow) {
          const ang = Math.atan2(y1 - y2, x1 - x2);
          const L = 9;
          const W = 3.5;
          ctx.beginPath();
          ctx.moveTo(x1, y1);
          ctx.lineTo(x1 - L * Math.cos(ang) + W * Math.sin(ang), y1 - L * Math.sin(ang) - W * Math.cos(ang));
          ctx.lineTo(x1 - L * Math.cos(ang) - W * Math.sin(ang), y1 - L * Math.sin(ang) + W * Math.cos(ang));
          ctx.closePath();
          ctx.fill();
        }
        ctx.restore();
      }
    },
  };

  return {
    type: 'scatter',
    data: { datasets },
    options: {
      responsive: false,
      animation: false,
      devicePixelRatio: 1,
      events: [],
      layout: { padding: { top: p.plotTop - p.top, right: 610 - p.plotRight, left: 0, bottom: 0 } },
      plugins: { legend: { display: false }, tooltip: { enabled: false }, title: { display: false } },
      scales: {
        x: {
          type: 'linear', position: 'bottom', min: 0, max: p.xMax,
          ticks: { stepSize: 0.5, maxTicksLimit: 100, autoSkip: false, display: p.showX, maxRotation: 0, color: '#000', font: tickFont, padding: p.xPad, callback: xTickCb },
          grid, border,
          afterFit: (s: any) => { s.height = xH; },
        },
        x2: {
          type: 'linear', position: 'top', min: 0, max: p.xMax,
          ticks: { stepSize: 0.5, maxTicksLimit: 100, autoSkip: false, display: false },
          grid, border,
          afterFit: (s: any) => { s.height = 0; },
        },
        y: {
          type: 'linear', position: 'left', min: p.yMin, max: p.yMax,
          ticks: { stepSize: p.yStep, maxTicksLimit: 100, autoSkip: false, color: '#000', font: tickFont, padding: p.yPad, callback: (v: any) => p.yLabel(v) },
          grid, border,
          afterFit: (s: any) => { s.width = p.plotLeft; },
        },
        y2: {
          type: 'linear', position: 'right', min: p.yMin, max: p.yMax,
          ticks: { stepSize: p.yStep, maxTicksLimit: 100, autoSkip: false, display: false },
          grid, border,
          afterFit: (s: any) => { s.width = 0; },
        },
      },
    },
    plugins: [overlay],
  };
}

const panels: PanelCfg[] = [
  {
    id: 'a', top: 0, height: 240, plotLeft: 78, plotTop: 20, plotBottom: 224, plotRight: 602,
    xMax: 7, yMin: 0.6, yMax: 2.4, yStep: 0.2, yLabel: labelAB, showX: false, xPad: 8, yPad: 9,
    series: [a3C, a4C, a5C, a6C, a7C, a8C, a12C, a16C, aCir].map((y) => ({ x: xStar, y })),
    labels: cornerLabels,
    legend: { symX: [112, 173], textX: [131, 194], rowY: [32, 51, 71, 91, 110], size: 18 },
    dashed: false,
  },
  {
    id: 'b', top: 226, height: 274, plotLeft: 78, plotTop: 245, plotBottom: 452, plotRight: 602,
    xMax: 7, yMin: 0.6, yMax: 2.4, yStep: 0.2, yLabel: labelAB, showX: true, xPad: 8, yPad: 9,
    series: [b3F, b4F, b5F, b6F, b7F, b8F, b12F, b16F, bCir].map((y) => ({ x: xStar, y })),
    labels: faceLabels,
    legend: { symX: [112, 179], textX: [130, 197], rowY: [255, 277, 298, 318, 338], size: 18 },
    dashed: false,
  },
  {
    id: 'c', top: 494, height: 236, plotLeft: 81, plotTop: 511, plotBottom: 717, plotRight: 602,
    xMax: 6, yMin: 0.6, yMax: 1.6, yStep: 0.2, yLabel: labelCD, showX: false, xPad: 8, yPad: 8,
    series: [
      { x: c3Cx, y: c3Cy }, { x: c4Cx, y: c4Cy }, { x: c5Cx, y: c5Cy }, { x: c6Cx, y: c6Cy },
      { x: c7Cx, y: c7Cy }, { x: c8Cx, y: c8Cy }, { x: c12Cx, y: c12Cy }, { x: c16Cx, y: c16Cy }, { x: cCirx, y: cCiry },
    ],
    labels: cornerLabels,
    legend: { symX: [464, 529], textX: [485, 549], rowY: [613, 634, 654, 675, 696], size: 19 },
    dashed: true,
    pointer: { x: pointerCX, y: pointerCY, arrow: false },
  },
  {
    id: 'd', top: 733, height: 267, plotLeft: 81, plotTop: 750, plotBottom: 955, plotRight: 602,
    xMax: 6, yMin: 0.6, yMax: 1.6, yStep: 0.2, yLabel: labelCD, showX: true, xPad: 4, yPad: 8,
    series: [
      { x: d3Fx, y: d3Fy }, { x: d4Fx, y: d4Fy }, { x: d5Fx, y: d5Fy }, { x: d6Fx, y: d6Fy },
      { x: d7Fx, y: d7Fy }, { x: d8Fx, y: d8Fy }, { x: d12Fx, y: d12Fy }, { x: d16Fx, y: d16Fy }, { x: dCirx, y: dCiry },
    ],
    labels: faceLabels,
    legend: { symX: [470, 539], textX: [489, 557], rowY: [843, 863, 883, 903, 924], size: 19 },
    dashed: true,
    pointer: { x: pointerDX, y: pointerDY, arrow: true },
  },
];

function Panel({ cfg }: { cfg: PanelCfg }) {
  const ref = useRef<HTMLCanvasElement>(null);
  useEffect(() => {
    if (!ref.current) return;
    const chart = new Chart(ref.current, makeConfig(cfg));
    return () => chart.destroy();
  }, [cfg]);
  return (
    <canvas
      ref={ref}
      width={610}
      height={cfg.height}
      style={{ position: 'absolute', left: 0, top: cfg.top, width: 610, height: cfg.height, zIndex: 1 }}
    />
  );
}

const abs = (left: number, top: number, size: number, extra: any = {}): any => ({
  position: 'absolute', left, top, fontSize: size, lineHeight: 1, whiteSpace: 'nowrap',
  fontFamily: FONT, color: '#000', zIndex: 2, ...extra,
});
const centered = (cx: number, cy: number, size: number, rotate: boolean): any => ({
  position: 'absolute', left: cx, top: cy, fontSize: size, lineHeight: 1, whiteSpace: 'nowrap',
  fontFamily: FONT, color: '#000', zIndex: 2,
  transform: `translate(-50%, -50%)${rotate ? ' rotate(-90deg)' : ''}`,
});
const Sub = ({ children }: any) => <span style={{ fontSize: '0.62em', position: 'relative', top: '0.3em' }}>{children}</span>;
const Sup = ({ children }: any) => <span style={{ fontSize: '0.62em', position: 'relative', top: '-0.45em' }}>{children}</span>;

const Frac = ({ num, den }: any) => (
  <span style={{ display: 'inline-flex', flexDirection: 'column', alignItems: 'center', margin: '0 1px' }}>
    <span style={{ borderBottom: '1px solid #000', padding: '0 2px', lineHeight: '19px' }}>{num}</span>
    <span style={{ lineHeight: '19px', padding: '0 2px' }}>{den}</span>
  </span>
);

const Equation = ({ left, barY }: { left: number; barY: number }) => (
  <div style={{ position: 'absolute', left, top: barY - 19.5, display: 'flex', alignItems: 'center', fontFamily: FONT, fontSize: 17, color: '#000', zIndex: 2, whiteSpace: 'nowrap', lineHeight: '19px' }}>
    <Frac num={<><i>δ</i><Sub>1/2</Sub></>} den={<><i>D</i><Sub><i>b</i></Sub></>} />
    <span style={{ marginLeft: 3 }}>= 0.39</span>
    <span style={{ marginLeft: 5 }}>
      <Frac num={<i>x</i>} den={<><i>L</i><Sub><i>r</i></Sub></>} />
    </span>
    <span style={{ marginLeft: 1 }}>+ 0.34</span>
  </div>
);

export default function App() {
  return (
    <div style={{ position: 'absolute', left: 0, top: 0, width: 610, height: 1000, background: '#fff', overflow: 'hidden' }}>
      {panels.map((p) => (
        <Panel key={p.id} cfg={p} />
      ))}
      <div style={abs(4, 7, 22)}>(a)</div>
      <div style={abs(14, 235, 22)}>(b)</div>
      <div style={abs(18, 493, 22)}>(c)</div>
      <div style={abs(17, 727, 22)}>(d)</div>
      <div style={abs(403, 172, 21)}>Corner orientation</div>
      <div style={abs(408, 403, 21)}>Face orientation</div>
      <div style={abs(102, 522, 21)}>Corner orientation</div>
      <div style={abs(105, 761, 21)}>Face orientation</div>
      <div style={centered(32, 119, 22, true)}><i>δ</i><Sup>*</Sup><Sub>1/2</Sub></div>
      <div style={centered(32, 332, 22, true)}><i>δ</i><Sup>*</Sup><Sub>1/2</Sub></div>
      <div style={centered(34, 614, 22, true)}><i>δ</i><Sub>1/2</Sub>/<i>D</i><Sub><i>b</i></Sub></div>
      <div style={centered(34, 852, 22, true)}><i>δ</i><Sub>1/2</Sub>/<i>D</i><Sub><i>b</i></Sub></div>
      <div style={centered(340, 481, 22, false)}><i>x</i><Sup>*</Sup></div>
      <div style={centered(341, 988, 22, false)}><i>x</i>/<i>L</i><Sub><i>r</i></Sub></div>
      <Equation left={256} barY={687} />
      <Equation left={256} barY={919} />
    </div>
  );
}
